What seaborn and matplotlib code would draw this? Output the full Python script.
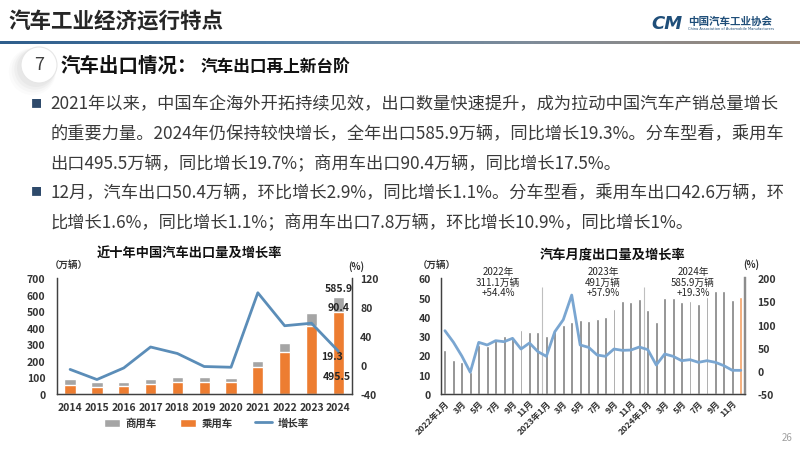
import numpy as np
import pandas as pd
import matplotlib
matplotlib.use("Agg")
import matplotlib.pyplot as plt
import seaborn as sns
from matplotlib.patches import Patch, Circle
from matplotlib.lines import Line2D
from matplotlib.colors import LinearSegmentedColormap

# ---------------- data ----------------
years = ['2014', '2015', '2016', '2017', '2018', '2019', '2020', '2021', '2022', '2023', '2024']
total_export = [91.0, 75.5, 70.8, 89.1, 104.1, 102.4, 99.5, 201.5, 311.1, 491.0, 585.9]
passenger_export = [52, 42, 47, 62, 72, 72, 75, 161.4, 252.9, 414.0, 495.5]
annual_growth = [-6, -20, -4, 25, 16, -2, -3, 100, 54.4, 57.9, 19.3]

month_labels = ['2022年1月', '2月', '3月', '4月', '5月', '6月', '7月', '8月', '9月', '10月', '11月', '12月',
                '2023年1月', '2月', '3月', '4月', '5月', '6月', '7月', '8月', '9月', '10月', '11月', '12月',
                '2024年1月', '2月', '3月', '4月', '5月', '6月', '7月', '8月', '9月', '10月', '11月', '12月']
monthly_export = [22.8, 17.8, 16.4, 11.4, 25.5, 24.7, 28.5, 30.3, 29.4, 33.4, 32.4, 32.0,
                  29.9, 32.9, 35.8, 37.2, 38.4, 37.7, 38.9, 40.1, 44.0, 48.3, 47.8, 49.4,
                  43.8, 37.5, 49.8, 49.8, 47.8, 48.1, 46.7, 50.5, 53.5, 53.5, 48.8, 50.4]
monthly_growth = [86.8, 62, 32, -3, 61.6, 55.9, 65.2, 63, 70.3, 47.2, 60.2, 41.5,
                  31.4, 84.6, 110.5, 163.8, 55.9, 50.8, 34.3, 31.4, 47.2, 44.3, 45, 51.5,
                  45.8, 12.7, 36.4, 31.4, 22, 24.2, 18.4, 22, 18.4, 11.2, 1.2, 1.1]
year_names = ['2022年', '2023年', '2024年']
year_totals = ['311.1万辆', '491万辆', '585.9万辆']
year_growth = ['+54.4%', '+57.9%', '+19.3%']

page_title = '汽车工业经济运行特点'
section_no = '7'
section_main = '汽车出口情况：'
section_sub = '汽车出口再上新台阶'
body_lines = [
    '2021年以来，中国车企海外开拓持续见效，出口数量快速提升，成为拉动中国汽车产销总量增长',
    '的重要力量。2024年仍保持较快增长，全年出口585.9万辆，同比增长19.3%。分车型看，乘用车',
    '出口495.5万辆，同比增长19.7%；商用车出口90.4万辆，同比增长17.5%。',
    '12月，汽车出口50.4万辆，环比增长2.9%，同比增长1.1%。分车型看，乘用车出口42.6万辆，环',
    '比增长1.6%，同比增长1.1%；商用车出口7.8万辆，环比增长10.9%，同比增长1%。',
]
bullet_rows = [0, 3]

# ---------------- style ----------------
sns.set_theme(style="white")
plt.rcParams['font.family'] = ['Noto Sans CJK SC', 'DejaVu Sans']
plt.rcParams['axes.unicode_minus'] = False

W, H = 800, 452
fig = plt.figure(figsize=(8, 4.52), dpi=100)
fig.patch.set_facecolor('white')


def fx(x):
    return x / W


def fy(y):
    return 1 - y / H


# ---------------- header ----------------
fig.text(fx(8), fy(22), page_title, fontsize=15.5, fontweight='bold', color='#262626',
         ha='left', va='center')

hdr = fig.add_axes([0, fy(44.5), 1, 3 / H])
grad = np.linspace(0, 1, 256).reshape(1, -1)
cmap = LinearSegmentedColormap.from_list('hdr', ['#2F5E8C', '#4E7BA3', '#7F8C99', '#9A8878'])
hdr.imshow(grad, aspect='auto', cmap=cmap, extent=[0, 1, 0, 1])
hdr.axis('off')

fig.text(fx(667), fy(24), 'CM', fontsize=13, fontweight='bold', fontstyle='italic',
         color='#1F4E79', ha='center', va='center', family=['DejaVu Sans'])
fig.text(fx(688), fy(21.5), '中国汽车工业协会', fontsize=7.6, fontweight='bold', color='#1F4E79',
         ha='left', va='center')
fig.text(fx(688), fy(29.5), 'China Association of Automobile Manufacturers', fontsize=2.6,
         color='#1F4E79', ha='left', va='center', family=['DejaVu Sans'])

deco = fig.add_axes([0, 0, 1, 1], zorder=-1)
deco.set_xlim(0, W)
deco.set_ylim(H, 0)
deco.axis('off')
for k, a in enumerate([0.05, 0.05, 0.04, 0.03]):
    deco.add_patch(Circle((36 - k * 1.2, 69 + k * 1.2), 19 + k * 1.5, color='#808080', alpha=a, lw=0))
deco.add_patch(Circle((39, 66), 18, facecolor='white', edgecolor='#E6E6E6', lw=0.8))
fig.text(fx(39), fy(65), section_no, fontsize=13, color='#404040', ha='center', va='center')
fig.text(fx(61), fy(66), section_main, fontsize=14, fontweight='bold', color='#111111',
         ha='left', va='center')
fig.text(fx(201), fy(67), section_sub, fontsize=12, fontweight='bold', color='#111111',
         ha='left', va='center')

line_y = [104, 133, 163, 192, 222]
for ln, yy in zip(body_lines, line_y):
    fig.text(fx(50), fy(yy), ln, fontsize=12.4, color='#3A3A3A', ha='left', va='center')
for r in bullet_rows:
    fig.text(fx(36), fy(line_y[r]), '■', fontsize=8, color='#2E4A6B', ha='center', va='center')

fig.text(fx(787), fy(438), '26', fontsize=7, color='#A0A0A0', ha='center', va='center')

# ---------------- left chart ----------------
dark = '#333333'
axL = fig.add_axes([fx(56.7), fy(395), (351.7 - 56.7) / W, (395 - 279.3) / H])
dfA = pd.DataFrame({'year': years, 'total': total_export, 'passenger': passenger_export,
                    'growth': annual_growth})
sns.barplot(data=dfA, x='year', y='total', color='#A5A5A5', width=0.42, ax=axL, saturation=1)
sns.barplot(data=dfA, x='year', y='passenger', color='#ED7D31', width=0.42, ax=axL, saturation=1)
axL.set_ylim(0, 700)
axL.set_xlim(-0.5, len(years) - 0.5)
axL.set_yticks(range(0, 701, 100))
axL.set_xlabel('')
axL.set_ylabel('')
axL.tick_params(axis='both', length=0, labelsize=7.5, colors=dark)
for t in axL.get_xticklabels() + axL.get_yticklabels():
    t.set_fontweight('bold')
axL.tick_params(axis='y', pad=8)
axL.tick_params(axis='x', pad=6)

axL2 = axL.twinx()
sns.lineplot(x=np.arange(len(years)), y=annual_growth, color='#5B8DB8', lw=2.0, ax=axL2)
axL2.set_ylim(-40, 120)
axL2.set_yticks(range(-40, 121, 40))
axL2.tick_params(axis='y', length=0, labelsize=7.5, colors=dark, pad=6)
for t in axL2.get_yticklabels():
    t.set_fontweight('bold')
for a in (axL, axL2):
    a.spines['top'].set_visible(False)
    for s in ('left', 'right', 'bottom'):
        a.spines[s].set_color('#404040')
        a.spines[s].set_linewidth(0.9)
axL.set_facecolor('none')

last = len(years) - 1
axL.text(last, total_export[-1] + 58, f'{total_export[-1]:.1f}', fontsize=7.5, fontweight='bold',
         color='#262626', ha='center', va='center', zorder=5)
axL.text(last, passenger_export[-1] + 33, f'{total_export[-1] - passenger_export[-1]:.1f}',
         fontsize=7.5, fontweight='bold', color='#262626', ha='center', va='center', zorder=5)
axL.text(last - 0.25, 229, f'{annual_growth[-1]:.1f}', fontsize=7.5, fontweight='bold',
         color='#262626', ha='center', va='center', zorder=5)
axL.text(last - 0.05, 108, f'{passenger_export[-1]:.1f}', fontsize=7.5, fontweight='bold',
         color='#262626', ha='center', va='center', zorder=5)

fig.text(fx(189), fy(254), '近十年中国汽车出口量及增长率', fontsize=9.5, fontweight='bold',
         color='#111111', ha='center', va='center')
fig.text(fx(69), fy(265), '（万辆）', fontsize=6.8, fontweight='bold', color=dark, ha='center', va='center')
fig.text(fx(356), fy(267), '(%)', fontsize=6.8, fontweight='bold', color=dark, ha='center', va='center')

handles = [Patch(facecolor='#A5A5A5'), Patch(facecolor='#ED7D31'),
           Line2D([0], [0], color='#5B8DB8', lw=2)]
fig.legend(handles, ['商用车', '乘用车', '增长率'], loc='center', bbox_to_anchor=(fx(206), fy(424)),
           ncol=3, frameon=False, prop={'size': 7.5, 'weight': 'bold'}, handlelength=1.6,
           handleheight=0.8, columnspacing=2.2, handletextpad=0.5, labelcolor=dark)

# ---------------- right chart ----------------
axR = fig.add_axes([fx(440.7), fy(395), (745 - 440.7) / W, (395 - 279.3) / H])
dfM = pd.DataFrame({'m': [f'{i:02d}' for i in range(len(month_labels))], 'v': monthly_export})
bar_colors = ['#7F7F7F'] * (len(monthly_export) - 1) + ['#F2A064']
sns.barplot(data=dfM, x='m', y='v', hue='m', palette=bar_colors, legend=False, width=0.34,
            ax=axR, saturation=1)
axR.set_ylim(0, 60)
axR.set_xlim(-0.5, len(month_labels) - 0.5)
axR.set_yticks(range(0, 61, 10))
axR.set_xticks(range(0, len(month_labels), 2))
axR.set_xticklabels(month_labels[::2], rotation=45, ha='right', rotation_mode='anchor')
axR.set_xlabel('')
axR.set_ylabel('')
axR.tick_params(axis='y', length=0, labelsize=7.5, colors=dark, pad=7)
axR.tick_params(axis='x', length=0, labelsize=6.3, colors=dark, pad=3)
for t in axR.get_xticklabels() + axR.get_yticklabels():
    t.set_fontweight('bold')
axR.vlines([11.5, 23.5], 0, 55.5, color='#BFBFBF', lw=0.8, zorder=0)

axR2 = axR.twinx()
sns.lineplot(x=np.arange(len(month_labels)), y=monthly_growth, color='#7AA6D1', lw=2.0, ax=axR2)
axR2.set_ylim(-50, 200)
axR2.set_yticks(range(-50, 201, 50))
axR2.tick_params(axis='y', length=0, labelsize=7.5, colors=dark, pad=9)
for t in axR2.get_yticklabels():
    t.set_fontweight('bold')
for a in (axR, axR2):
    a.spines['top'].set_visible(False)
    a.spines['left'].set_color('#404040')
    a.spines['bottom'].set_color('#404040')
    a.spines['left'].set_linewidth(0.9)
    a.spines['bottom'].set_linewidth(0.9)
    a.spines['right'].set_color('#8C8C8C')
    a.spines['right'].set_linewidth(1.6)
axR.set_facecolor('none')

ann_x = [498, 603, 693]
for xi, n, t, g in zip(ann_x, year_names, year_totals, year_growth):
    fig.text(fx(xi), fy(282.5), f'{n}\n{t}\n{g}', fontsize=7, color='#262626',
             ha='center', va='center', linespacing=1.05)

fig.text(fx(613), fy(255), '汽车月度出口量及增长率', fontsize=9.5, fontweight='bold',
         color='#111111', ha='center', va='center')
fig.text(fx(437), fy(265), '（万辆）', fontsize=6.8, fontweight='bold', color=dark, ha='center', va='center')
fig.text(fx(751), fy(265), '(%)', fontsize=6.8, fontweight='bold', color=dark, ha='center', va='center')

fig.savefig('out.png', dpi=100, facecolor='white')
